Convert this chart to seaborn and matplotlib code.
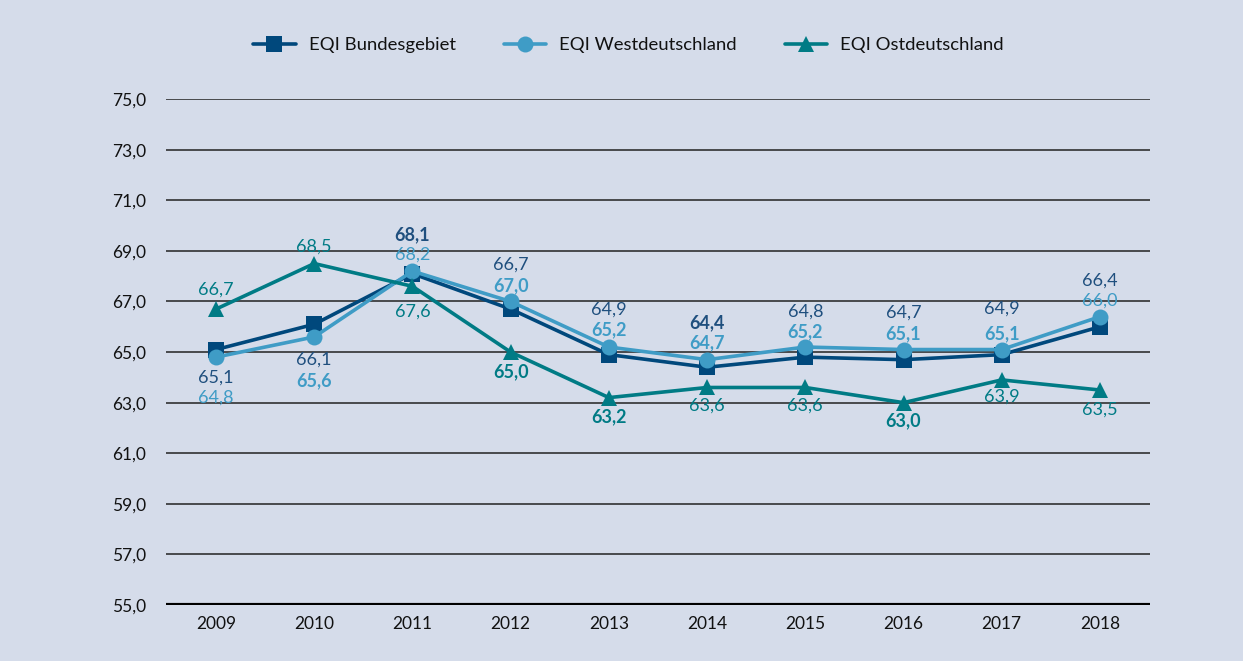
import pandas as pd
import matplotlib.pyplot as plt
import seaborn as sns

# Werte
years = ["2009", "2010", "2011", "2012", "2013", "2014", "2015", "2016", "2017", "2018"]
bundes = [65.1, 66.1, 68.1, 66.7, 64.9, 64.4, 64.8, 64.7, 64.9, 66.0]
west = [64.8, 65.6, 68.2, 67.0, 65.2, 64.7, 65.2, 65.1, 65.1, 66.4]
ost = [66.7, 68.5, 67.6, 65.0, 63.2, 63.6, 63.6, 63.0, 63.9, 63.5]

# Beschriftungen wie in der Vorlage (2018 vertauscht)
bundes_labels = ["65,1", "66,1", "68,1", "66,7", "64,9", "64,4", "64,8", "64,7", "64,9", "66,4"]
west_labels = ["64,8", "65,6", "68,2", "67,0", "65,2", "64,7", "65,2", "65,1", "65,1", "66,0"]
ost_labels = ["66,7", "68,5", "67,6", "65,0", "63,2", "63,6", "63,6", "63,0", "63,9", "63,5"]

series_names = ["EQI Bundesgebiet", "EQI Westdeutschland", "EQI Ostdeutschland"]

BG = "#d5dcea"
C_BUND = "#00487c"
C_WEST = "#3f9cc6"
C_OST = "#007b85"

# Stil der Beschriftungen: Versatz in Pixel, Schriftgewicht
bund_off = [28, 35, -39, -44, -45, -45, -46, -47, -46, -46]
west_off = [40, 44, -17, -16, -17, -17, -15, -16, -16, -16]
ost_off = [-19, -17, 25, 20, 19, 18, 18, 18, 17, 20]
bund_w = ["normal"] * 10
bund_w[2] = bund_w[5] = "bold"
west_w = ["bold"] * 10
west_w[0] = west_w[2] = west_w[9] = "normal"
ost_w = ["normal"] * 10
ost_w[3] = ost_w[4] = ost_w[7] = "bold"

sns.set_theme(style="white")
plt.rcParams["font.family"] = ["Lato", "DejaVu Sans"]

df = pd.DataFrame({
    "x": list(range(len(years))) * 3,
    "wert": bundes + west + ost,
    "reihe": [series_names[0]] * 10 + [series_names[1]] * 10 + [series_names[2]] * 10,
})

fig = plt.figure(figsize=(12.43, 6.61), dpi=100, facecolor=BG)
ax = fig.add_axes([0.1335, 0.0847, 0.7917, 0.7653])
ax.set_facecolor(BG)

for y in range(57, 76, 2):
    ax.axhline(y, color="#222222", lw=1.1, zorder=0)
ax.axhline(55, color="black", lw=3, zorder=0)

sns.lineplot(data=df, x="x", y="wert", hue="reihe", style="reihe",
             palette=[C_BUND, C_WEST, C_OST],
             markers=["s", "o", "^"], dashes=False,
             markersize=11.5, linewidth=2.6, markeredgewidth=0,
             ax=ax, zorder=3)

def label(vals, texts, offs, weights, color):
    for i, (v, t, o, w) in enumerate(zip(vals, texts, offs, weights)):
        ax.annotate(t, (i, v), xytext=(0, -o * 0.72), textcoords="offset points",
                    ha="center", va="center", fontsize=13, color=color,
                    fontweight=w, zorder=4)

label(bundes, bundes_labels, bund_off, bund_w, "#1f4f7e")
label(west, west_labels, west_off, west_w, C_WEST)
label(ost, ost_labels, ost_off, ost_w, C_OST)

ax.set_xlim(-0.51, 9.51)
ax.set_ylim(55, 75)
ax.set_yticks(range(55, 76, 2))
ax.set_yticklabels([f"{y},0" for y in range(55, 76, 2)], fontsize=12.5, color="#111111")
ax.set_xticks(range(len(years)))
ax.set_xticklabels(years, fontsize=12.5, color="#111111")
ax.tick_params(axis="y", pad=14, length=0)
ax.tick_params(axis="x", pad=8, length=0)
ax.set_xlabel("")
ax.set_ylabel("")
for s in ax.spines.values():
    s.set_visible(False)

leg = ax.legend(loc="center", bbox_to_anchor=(0.47, 1.107), ncol=3, frameon=False,
                fontsize=13.3, handlelength=2.3, columnspacing=2.6, handletextpad=0.7,
                labelcolor="#111111")
for h in leg.legend_handles:
    h.set_markersize(11.5)

fig.savefig("out.png", dpi=100, facecolor=BG)
